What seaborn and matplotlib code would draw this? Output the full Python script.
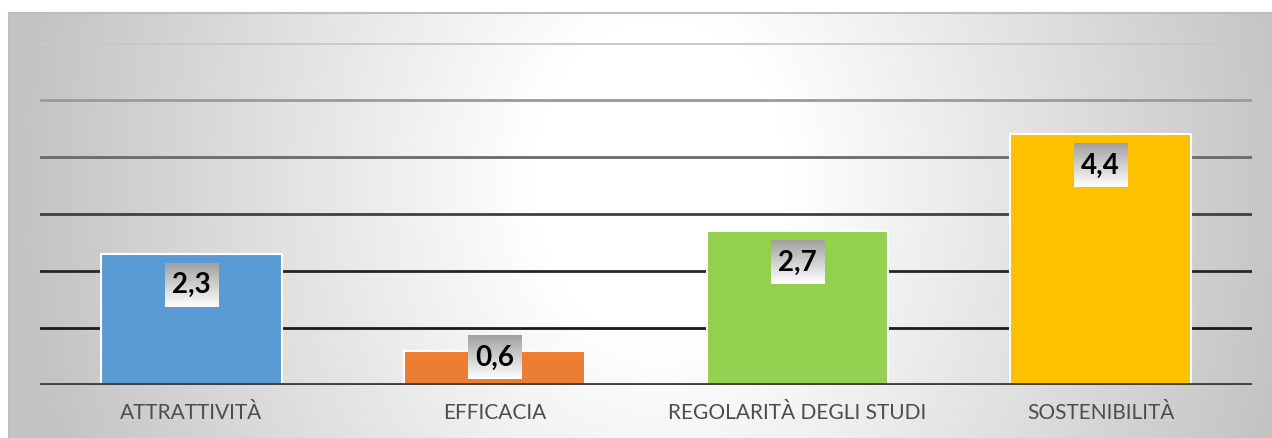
import numpy as np
import matplotlib
matplotlib.use("Agg")
import matplotlib.pyplot as plt
import seaborn as sns

# dati del grafico
categorie = ["ATTRATTIVITÀ", "EFFICACIA", "REGOLARITÀ DEGLI STUDI", "SOSTENIBILITÀ"]
valori = [2.3, 0.6, 2.7, 4.4]
colori = ["#5B9BD5", "#ED7D31", "#92D050", "#FFC000"]
livelli_griglia = [1, 2, 3, 4, 5, 6]
colori_griglia = ["#1a1a1a", "#262626", "#404040", "#6a6a6a", "#9a9a9a", "#c8c8c8"]

sns.set_style("white")
plt.rcParams['font.family'] = ['Lato', 'DejaVu Sans']

W, H = 1272, 438
fig = plt.figure(figsize=(W / 100, H / 100), dpi=100)
fig.patch.set_facecolor("white")

# sfondo con gradiente radiale (area grafico)
x0, y0 = 9, 13
bg = fig.add_axes([x0 / W, 0, 1 - x0 / W, (H - y0) / H])
xx, yy = np.meshgrid(np.arange(x0, W), np.arange(y0, H))
d = np.sqrt(((xx - 660) / 640.0) ** 2 + ((yy - 180) / 800.0) ** 2)
v = 255 - 60 * np.clip((d - 0.2) / 0.8, 0, 1)
img = np.dstack([v, v, v]) / 255.0
bg.imshow(img, aspect="auto", interpolation="bilinear")
bg.set_xticks([])
bg.set_yticks([])
for s in ["right", "bottom"]:
    bg.spines[s].set_visible(False)
for s in ["top", "left"]:
    bg.spines[s].set_color("#bdbdbd")
    bg.spines[s].set_linewidth(1.5)

# grafico principale
ax = fig.add_axes([40 / W, 53 / H, 1212 / W, 342 / H])
ax.set_facecolor("none")

for lv, c in zip(livelli_griglia, colori_griglia):
    ax.axhline(lv, color=c, lw=2, zorder=1)

sns.barplot(x=categorie, y=valori, hue=categorie, palette=colori, width=0.6,
            edgecolor="white", linewidth=1.5, legend=False, ax=ax, zorder=3,
            saturation=1)

ax.axhline(0, color="#404040", lw=3.5, zorder=4)

# etichette con riquadro sfumato
grad = np.linspace(0.63, 1.0, 50)[:, None]
grad_img = np.dstack([grad, grad, grad])
bw, bh = 0.089, 0.38
for i, val in enumerate(valori):
    yc = max(val - 0.55, 0.1 + bh)
    ax.imshow(grad_img, extent=[i - bw, i + bw, yc - bh, yc + bh],
              aspect="auto", origin="upper", zorder=5)
    ax.text(i, yc, f"{val:.1f}".replace(".", ","), ha="center", va="center",
            fontsize=20, fontweight="bold", color="black", zorder=6)

ax.set_xlim(-0.5, 3.5)
ax.set_ylim(0, 6)
ax.set_yticks([])
ax.tick_params(axis="x", length=0, pad=13, labelsize=15, labelcolor="#4d4d4d")
ax.set_xlabel("")
ax.set_ylabel("")
sns.despine(ax=ax, left=True, bottom=True)

fig.savefig("out.png", dpi=100)
